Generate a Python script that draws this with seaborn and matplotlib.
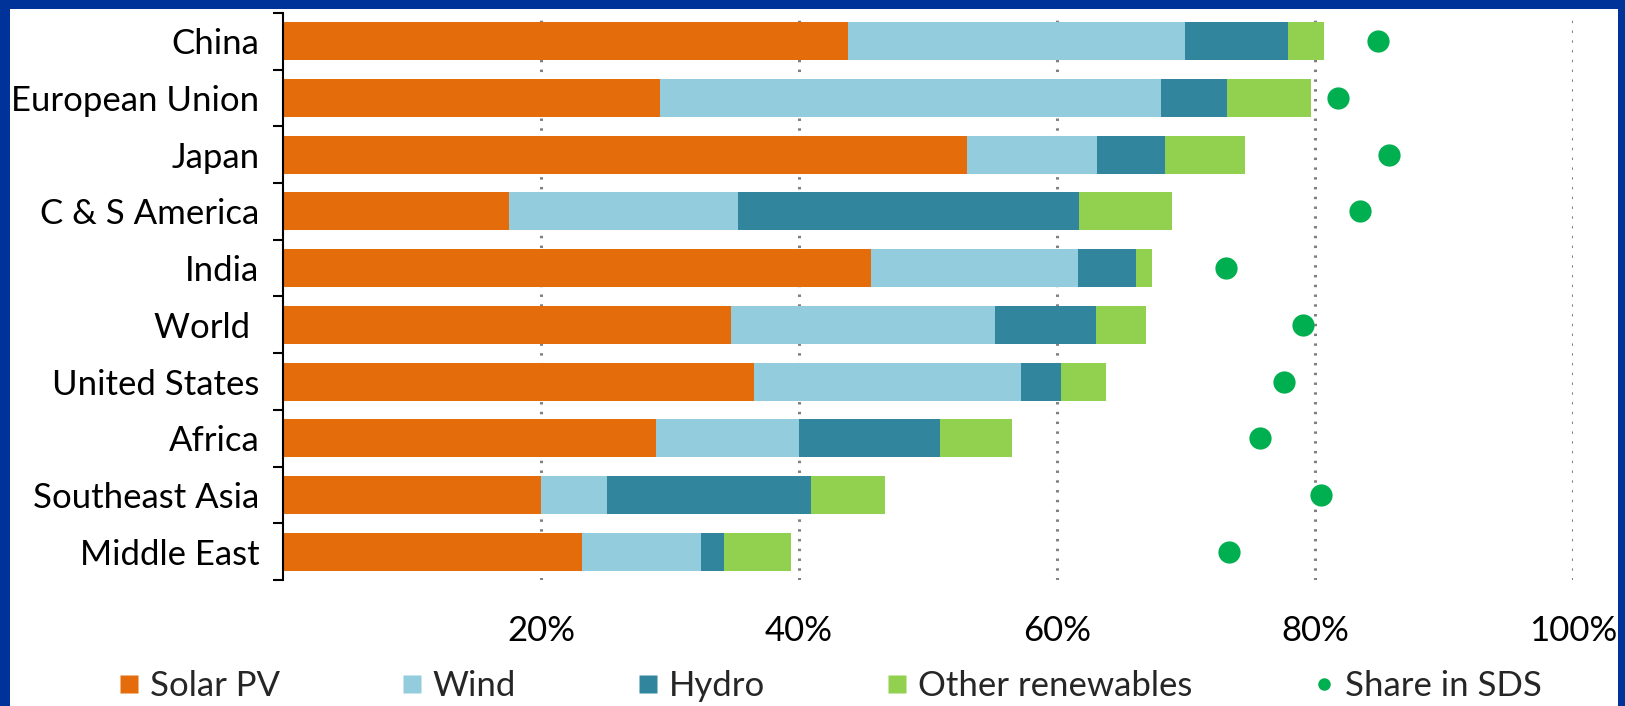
import matplotlib
matplotlib.use('Agg')
import matplotlib.pyplot as plt
import seaborn as sns
import pandas as pd
import numpy as np
from matplotlib.patches import Rectangle
from matplotlib.lines import Line2D

regions = ["China", "European Union", "Japan", "C & S America", "India",
           "World ", "United States", "Africa", "Southeast Asia", "Middle East"]
solar = [43.8, 29.2, 53.0, 17.5, 45.6, 34.7, 36.5, 28.9, 20.0, 23.2]
wind = [26.1, 38.9, 10.1, 17.8, 16.0, 20.5, 20.7, 11.1, 5.1, 9.2]
hydro = [8.0, 5.1, 5.3, 26.4, 4.5, 7.8, 3.1, 10.9, 15.8, 1.8]
other = [2.8, 6.5, 6.2, 7.2, 1.3, 3.9, 3.5, 5.6, 5.8, 5.2]
sds_share = [84.9, 81.8, 85.7, 83.5, 73.1, 79.1, 77.6, 75.7, 80.5, 73.3]
x_ticks = [20, 40, 60, 80, 100]
x_tick_labels = ["20%", "40%", "60%", "80%", "100%"]
series_names = ["Solar PV", "Wind", "Hydro", "Other renewables"]
series_colors = ["#E46C0A", "#93CDDD", "#31859C", "#92D050"]
dot_color = "#00B050"
dot_label = "Share in SDS"

df = pd.DataFrame({"region": regions, "Solar PV": solar, "Wind": wind,
                   "Hydro": hydro, "Other renewables": other, "sds": sds_share})
cum = df[series_names].cumsum(axis=1)
for name in series_names:
    df["cum_" + name] = cum[name]

sns.set_theme(style="white")
FONT = ["Lato", "DejaVu Sans"]
plt.rcParams["font.family"] = FONT
FS = 25

fig = plt.figure(figsize=(16.25, 7.06), dpi=100)
fig.patch.set_facecolor("#003399")
fig.patches.append(Rectangle((10 / 1625, 0), (1618 - 10) / 1625, (706 - 9) / 706,
                             transform=fig.transFigure, facecolor="white",
                             edgecolor="none", zorder=-10))

ax = fig.add_axes([283 / 1625, 1 - 580 / 706, 1290 / 1625, 567 / 706])
ax.set_facecolor("none")

for name, color in reversed(list(zip(series_names, series_colors))):
    sns.barplot(data=df, x="cum_" + name, y="region", order=regions, color=color,
                saturation=1, width=0.67, orient="h", linewidth=0, ax=ax, zorder=2)

sns.scatterplot(data=df, x="sds", y="region", color=dot_color, s=256,
                linewidth=0, ax=ax, zorder=3)

ax.set_xlim(0, 100)
ax.set_ylim(9.5, -0.5)
ax.set_xticks(x_ticks)
ax.set_xticklabels(x_tick_labels, fontsize=FS)
ax.set_xlabel("")
ax.set_ylabel("")
ax.xaxis.grid(True, color="#808080", linestyle=(0, (0.8, 2.4)), linewidth=2.2)
ax.yaxis.grid(False)
ax.set_axisbelow(True)
for s in ["top", "right", "bottom"]:
    ax.spines[s].set_visible(False)
ax.spines["left"].set_color("black")
ax.spines["left"].set_linewidth(1.5)
ax.tick_params(axis="x", length=0, pad=25, labelsize=FS, colors="black")
ax.tick_params(axis="y", which="major", length=0, pad=17, labelsize=FS, colors="black")
ax.set_yticks(np.arange(-0.5, len(regions), 1), minor=True)
ax.tick_params(axis="y", which="minor", length=7, width=1.5, direction="out", color="black", left=True)

handles = [Line2D([], [], marker="s", linestyle="none", markersize=13,
                  markerfacecolor=c, markeredgecolor="none") for c in series_colors]
handles.append(Line2D([], [], marker="o", linestyle="none", markersize=9,
                      markerfacecolor=dot_color, markeredgecolor="none"))
fig.legend(handles, series_names + [dot_label], loc="center",
           bbox_to_anchor=(0.511, 1 - 686 / 706), ncol=5, frameon=False,
           fontsize=FS, columnspacing=3.5, handlelength=0.6, handletextpad=0.3)

fig.savefig("out.png", dpi=100, facecolor=fig.get_facecolor())
